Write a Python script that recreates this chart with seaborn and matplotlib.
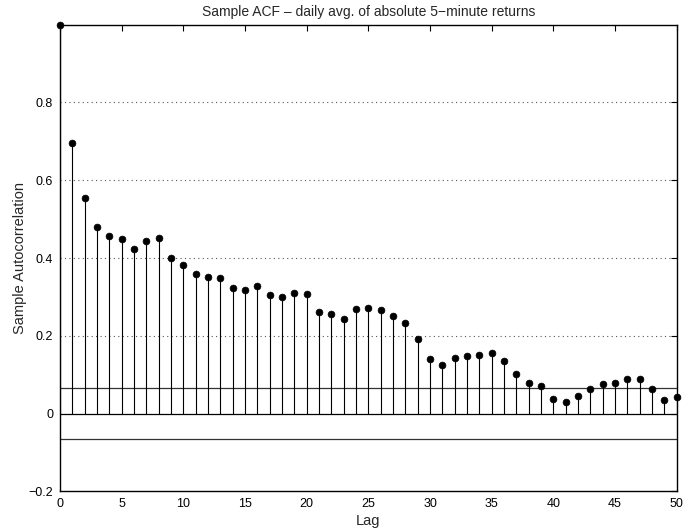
import matplotlib
matplotlib.use("Agg")
import matplotlib.pyplot as plt
import numpy as np
import seaborn as sns
import pandas as pd

# data
lags = list(range(0, 51))
acf = [1.000, 0.696, 0.555, 0.481, 0.457, 0.449, 0.424, 0.445, 0.452, 0.400,
       0.381, 0.358, 0.352, 0.349, 0.324, 0.319, 0.327, 0.305, 0.300, 0.311,
       0.308, 0.262, 0.256, 0.244, 0.269, 0.271, 0.266, 0.250, 0.234, 0.192,
       0.140, 0.124, 0.143, 0.149, 0.150, 0.156, 0.136, 0.101, 0.079, 0.070,
       0.038, 0.029, 0.046, 0.063, 0.075, 0.078, 0.088, 0.090, 0.062, 0.035,
       0.042]
bound = 0.065
xticks = [0, 5, 10, 15, 20, 25, 30, 35, 40, 45, 50]
yticks = [-0.2, 0, 0.2, 0.4, 0.6, 0.8]
ytick_labels = ["\u22120.2", "0", "0.2", "0.4", "0.6", "0.8"]

df = pd.DataFrame({"lag": lags, "acf": acf})

sns.set_style("white")
plt.rcParams['font.family'] = ['Liberation Sans', 'DejaVu Sans']
plt.rcParams['axes.unicode_minus'] = True

fig, ax = plt.subplots(figsize=(6.86, 5.31), dpi=100)
fig.subplots_adjust(left=0.0875, right=0.9865, top=0.9535, bottom=0.0746)

# grid lines at y ticks (dotted)
for yv in [0.2, 0.4, 0.6, 0.8]:
    ax.axhline(yv, color='#555555', linestyle=(0, (1, 3)), linewidth=0.8, zorder=0)

# stems
ax.vlines(df["lag"], 0, df["acf"], color='black', linewidth=0.8, zorder=2)
sns.scatterplot(data=df, x="lag", y="acf", color='black', s=24, edgecolor='black',
                linewidth=0.5, ax=ax, zorder=3, clip_on=False)

# zero line and confidence bounds
ax.axhline(0, color='black', linewidth=0.9, zorder=2)
ax.axhline(bound, color='#333333', linewidth=0.9, zorder=1)
ax.axhline(-bound, color='#333333', linewidth=0.9, zorder=1)

ax.set_xlim(0, 50)
ax.set_ylim(-0.2, 1.0)
ax.set_xticks(xticks)
ax.set_yticks(yticks)
ax.set_yticklabels(ytick_labels)
ax.tick_params(direction='in', length=4, width=0.8, top=True, right=True,
               labelsize=9, colors='black', pad=5)
for sp in ax.spines.values():
    sp.set_color('black')
    sp.set_linewidth(1.0)

ax.set_title("Sample ACF \u2013 daily avg. of absolute 5\u2212minute returns", fontsize=10, pad=6)
ax.set_xlabel("Lag", fontsize=10.5, labelpad=2.5)
ax.set_ylabel("Sample Autocorrelation", fontsize=10.5, labelpad=1)

fig.savefig("out.png", dpi=100)
